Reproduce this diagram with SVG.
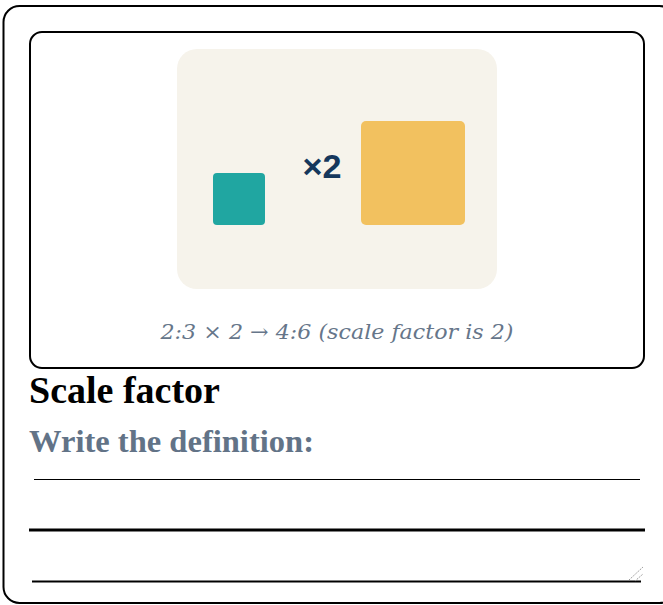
<svg xmlns="http://www.w3.org/2000/svg" width="663" height="605" viewBox="0 0 663 605">
<style>
.frame{fill:#ffffff;stroke:#000;stroke-width:2}
.serifb{font-family:"Liberation Serif","Times New Roman",serif;font-weight:bold}
.cap{font-family:"DejaVu Serif","Liberation Serif",serif;font-style:italic;fill:#66768a}
.rule{stroke:#000}
</style>
<rect width="663" height="605" fill="#ffffff"/>
<g id="card-outer">
<rect class="frame" x="3.5" y="6" width="672" height="597" rx="16"/>
</g>
<g id="illustration">
<rect class="frame" x="30" y="32" width="614" height="336" rx="12"/>
<rect x="177" y="49" width="320" height="240" rx="20" fill="#f6f3eb"/>
<g id="small-square"><rect x="213" y="173" width="52" height="52" rx="4" fill="#20a6a1"/></g>
<g id="multiplier"><text x="322" y="177.5" text-anchor="middle" font-family="'Liberation Sans',Arial,sans-serif" font-weight="bold" font-size="33" fill="#15375c" textLength="39" lengthAdjust="spacingAndGlyphs">×2</text></g>
<g id="large-square"><rect x="361" y="121" width="104" height="104" rx="5" fill="#f2c15f"/></g>
<text class="cap" x="337" y="339" text-anchor="middle" font-size="21" textLength="353" lengthAdjust="spacingAndGlyphs">2:3 × 2 → 4:6 (scale factor is 2)</text>
</g>
<g id="title">
<text class="serifb" x="29" y="403" font-size="37" fill="#000" textLength="191" lengthAdjust="spacingAndGlyphs">Scale factor</text>
</g>
<g id="prompt">
<text class="serifb" x="29" y="452" font-size="31" fill="#627387" textLength="285" lengthAdjust="spacingAndGlyphs">Write the definition:</text>
</g>
<g id="answer-lines">
<line class="rule" x1="34" y1="479.5" x2="640" y2="479.5" stroke-width="1"/>
<line class="rule" x1="29" y1="530" x2="645" y2="530" stroke-width="3"/>
<line class="rule" x1="32" y1="581.5" x2="641" y2="581.5" stroke-width="2"/>
<g id="resize-handle" stroke="#999" stroke-width="1" stroke-dasharray="1.5 1">
<line x1="629" y1="580" x2="643" y2="567"/>
<line x1="635" y1="581" x2="643" y2="574"/>
</g>
</g>
</svg>
